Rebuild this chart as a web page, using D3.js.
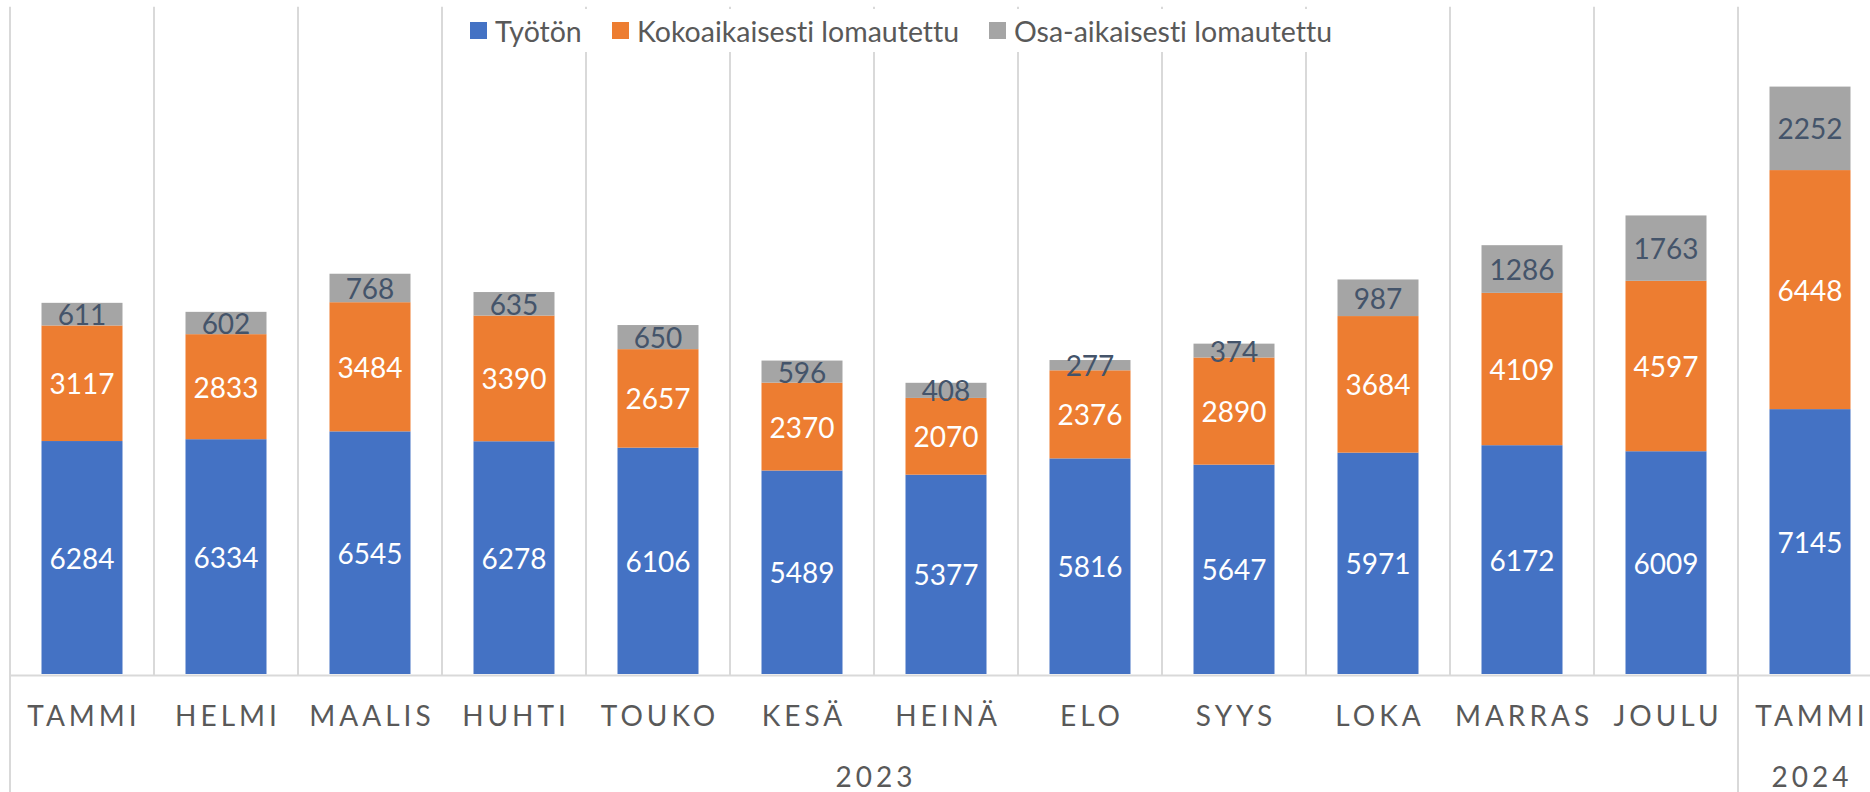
<!DOCTYPE html>
<html>
<head>
<meta charset="utf-8">
<script src="https://cdn.jsdelivr.net/npm/d3@7"></script>
<style>
  html, body { margin: 0; padding: 0; background: #fff; }
  #chart { width: 1870px; height: 792px; }
  text { font-family: Lato, "Open Sans", sans-serif; font-variant-ligatures: none; }
</style>
</head>
<body>
<div id="chart"></div>
<script>
//data
const months = ["TAMMI", "HELMI", "MAALIS", "HUHTI", "TOUKO", "KESÄ", "HEINÄ", "ELO", "SYYS", "LOKA", "MARRAS", "JOULU", "TAMMI"];
const years = ["2023", "2023", "2023", "2023", "2023", "2023", "2023", "2023", "2023", "2023", "2023", "2023", "2024"];
const tyoton = [6284, 6334, 6545, 6278, 6106, 5489, 5377, 5816, 5647, 5971, 6172, 6009, 7145];
const kokoaikaisesti = [3117, 2833, 3484, 3390, 2657, 2370, 2070, 2376, 2890, 3684, 4109, 4597, 6448];
const osaaikaisesti = [611, 602, 768, 635, 650, 596, 408, 277, 374, 987, 1286, 1763, 2252];
const seriesNames = ["Työtön", "Kokoaikaisesti lomautettu", "Osa-aikaisesti lomautettu"];

createStackedChart("#chart");

function createStackedChart(containerSelector) {
  const width = 1870;
  const height = 792;
  const colors = ["#4472C4", "#ED7D31", "#A5A5A5"];
  const labelColors = ["#ffffff", "#ffffff", "#44546A"];
  const keys = ["tyoton", "koko", "osa"];

  //table for stack
  const rows = months.map((m, i) => ({
    i,
    month: m,
    year: years[i],
    tyoton: tyoton[i],
    koko: kokoaikaisesti[i],
    osa: osaaikaisesti[i],
  }));
  const stacked = d3.stack().keys(keys)(rows);

  //size
  const plotLeft = 10;
  const step = 144;
  const baseY = 674;

  //scale
  const xScale = d3
    .scaleBand()
    .domain(rows.map((d) => d.i))
    .range([plotLeft, plotLeft + step * rows.length])
    .paddingInner(0.4375)
    .paddingOuter(0.21875);

  const yScale = d3.scaleLinear().domain([0, 18000]).range([baseY, 6.7]);

  //create element
  const svg = d3
    .select(containerSelector)
    .append("svg")
    .attr("width", width)
    .attr("height", height)
    .attr("viewBox", [0, 0, width, height]);

  svg.append("rect").attr("width", width).attr("height", height).attr("fill", "#fff");

  //gridlines between categories
  const bounds = d3.range(rows.length + 1).map((k) => xScale.range()[0] + k * xScale.step());
  svg
    .append("g")
    .attr("class", "grid")
    .selectAll("line")
    .data(bounds)
    .join("line")
    .attr("x1", (d) => d)
    .attr("x2", (d) => d)
    .attr("y1", yScale.range()[1])
    .attr("y2", baseY + 1)
    .attr("stroke", "#d9d9d9")
    .attr("stroke-width", 2);

  //category axis line
  svg
    .append("line")
    .attr("x1", plotLeft)
    .attr("x2", width)
    .attr("y1", baseY + 1.5)
    .attr("y2", baseY + 1.5)
    .attr("stroke", "#d9d9d9")
    .attr("stroke-width", 2);

  //year group dividers
  const groups = d3.groups(rows, (d) => d.year);
  const groupEdges = [plotLeft].concat(
    groups.map(([, g]) => xScale(g[g.length - 1].i) + xScale.bandwidth() + (xScale.step() - xScale.bandwidth()) / 2)
  );
  svg
    .append("g")
    .selectAll("line")
    .data(groupEdges)
    .join("line")
    .attr("x1", (d) => d)
    .attr("x2", (d) => d)
    .attr("y1", baseY)
    .attr("y2", height)
    .attr("stroke", "#d9d9d9")
    .attr("stroke-width", 2);

  //bars
  const layer = svg
    .append("g")
    .attr("class", "mark")
    .selectAll("g")
    .data(stacked)
    .join("g")
    .attr("fill", (d, k) => colors[k]);

  layer
    .selectAll("rect")
    .data((d) => d)
    .join("rect")
    .attr("x", (d) => xScale(d.data.i))
    .attr("width", xScale.bandwidth())
    .attr("y", (d) => yScale(d[1]))
    .attr("height", (d) => yScale(d[0]) - yScale(d[1]));

  //data labels
  svg
    .append("g")
    .selectAll("g")
    .data(stacked)
    .join("g")
    .attr("fill", (d, k) => labelColors[k])
    .selectAll("text")
    .data((d) => d.map((v) => ({ v, key: d.key })))
    .join("text")
    .attr("x", (d) => xScale(d.v.data.i) + xScale.bandwidth() / 2)
    .attr("y", (d) => (yScale(d.v[0]) + yScale(d.v[1])) / 2)
    .attr("text-anchor", "middle")
    .attr("dominant-baseline", "central")
    .attr("font-size", 28)
    .text((d) => d.v.data[d.key]);

  //month labels
  svg
    .append("g")
    .selectAll("text")
    .data(rows)
    .join("text")
    .attr("x", (d) => xScale(d.i) + xScale.bandwidth() / 2 + 2)
    .attr("y", 726)
    .attr("text-anchor", "middle")
    .attr("font-size", 28)
    .attr("letter-spacing", 4)
    .attr("fill", "#595959")
    .text((d) => d.month);

  //year labels
  svg
    .append("g")
    .selectAll("text")
    .data(groups)
    .join("text")
    .attr("x", ([, g]) => (xScale(g[0].i) + xScale(g[g.length - 1].i) + xScale.bandwidth()) / 2 + 2)
    .attr("y", 787)
    .attr("text-anchor", "middle")
    .attr("font-size", 28)
    .attr("letter-spacing", 4)
    .attr("fill", "#595959")
    .text(([y]) => y);

  //legend
  const legend = svg.append("g").attr("class", "legend");
  legend
    .append("rect")
    .attr("x", 455)
    .attr("y", 9)
    .attr("width", 890)
    .attr("height", 43)
    .attr("fill", "#fff");

  const legendX = [470, 612, 989];
  const item = legend
    .selectAll("g")
    .data(seriesNames)
    .join("g")
    .attr("transform", (d, k) => `translate(${legendX[k]},22)`);

  item
    .append("rect")
    .attr("width", 17)
    .attr("height", 17)
    .attr("fill", (d, k) => colors[k]);

  item
    .append("text")
    .attr("x", 25)
    .attr("y", 9)
    .attr("dominant-baseline", "central")
    .attr("font-size", 28.5)
    .attr("fill", "#595959")
    .text((d) => d);
}
</script>
</body>
</html>
